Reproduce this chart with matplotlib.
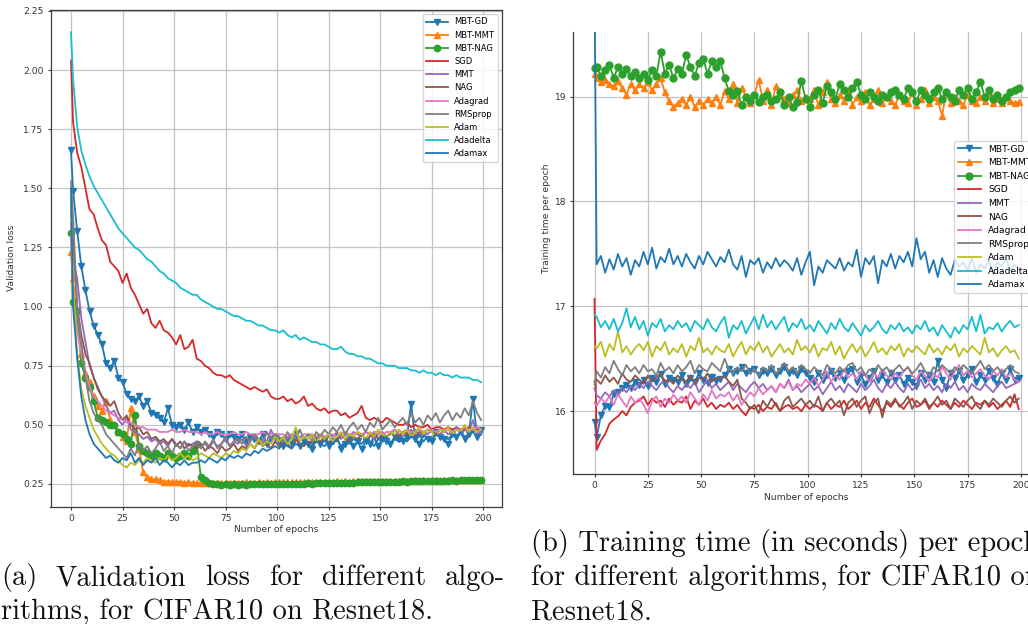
import matplotlib
matplotlib.use("Agg")
import matplotlib.pyplot as plt

# ---------------- data ----------------
epochs = [0] + list(range(1, 200, 2))
labels = ["MBT-GD", "MBT-MMT", "MBT-NAG", "SGD", "MMT", "NAG",
          "Adagrad", "RMSprop", "Adam", "Adadelta", "Adamax"]
x_ticks = [0, 25, 50, 75, 100, 125, 150, 175, 200]
loss_ticks = [0.25, 0.50, 0.75, 1.00, 1.25, 1.50, 1.75, 2.00, 2.25]
time_ticks = [16, 17, 18, 19]

# validation loss (left)
loss_mbt_gd = [1.66,
    1.49, 1.32, 1.17, 1.07, 0.98, 0.92, 0.88, 0.84, 0.76, 0.74,
    0.77, 0.70, 0.68, 0.63, 0.61, 0.60, 0.62, 0.58, 0.60, 0.55,
    0.54, 0.53, 0.51, 0.57, 0.50, 0.49, 0.50, 0.48, 0.51, 0.47,
    0.49, 0.47, 0.48, 0.46, 0.45, 0.47, 0.46, 0.44, 0.46, 0.45,
    0.44, 0.46, 0.43, 0.45, 0.44, 0.43, 0.46, 0.42, 0.44, 0.45,
    0.43, 0.41, 0.44, 0.42, 0.46, 0.41, 0.43, 0.42, 0.40, 0.44,
    0.42, 0.44, 0.41, 0.43, 0.45, 0.40, 0.42, 0.44, 0.41, 0.43,
    0.40, 0.43, 0.42, 0.45, 0.41, 0.44, 0.43, 0.42, 0.45, 0.44,
    0.43, 0.45, 0.59, 0.44, 0.42, 0.46, 0.44, 0.43, 0.47, 0.45,
    0.44, 0.42, 0.46, 0.45, 0.47, 0.44, 0.46, 0.61, 0.45, 0.48]
loss_mbt_mmt = [1.23,
    1.12, 0.93, 0.80, 0.72, 0.68, 0.62, 0.58, 0.56, 0.60, 0.52,
    0.50, 0.47, 0.45, 0.43, 0.57, 0.47, 0.40, 0.30, 0.28, 0.27,
    0.27, 0.265, 0.26, 0.26, 0.26, 0.258, 0.26, 0.255, 0.258, 0.255,
    0.255, 0.254, 0.256, 0.255, 0.254, 0.256, 0.255, 0.254, 0.256, 0.255,
    0.256, 0.255, 0.257, 0.256, 0.255, 0.257, 0.256, 0.257, 0.256, 0.257,
    0.257, 0.258, 0.257, 0.258, 0.259, 0.258, 0.257, 0.259, 0.258, 0.259,
    0.259, 0.260, 0.259, 0.260, 0.261, 0.260, 0.261, 0.260, 0.261, 0.262,
    0.261, 0.262, 0.261, 0.263, 0.262, 0.263, 0.262, 0.263, 0.264, 0.263,
    0.264, 0.263, 0.264, 0.265, 0.264, 0.265, 0.264, 0.266, 0.265, 0.264,
    0.265, 0.266, 0.265, 0.266, 0.265, 0.267, 0.266, 0.265, 0.266, 0.265]
loss_mbt_nag = [1.31,
    1.02, 0.98, 0.76, 0.70, 0.66, 0.60, 0.53, 0.52, 0.51, 0.50,
    0.50, 0.47, 0.46, 0.44, 0.42, 0.54, 0.41, 0.39, 0.38, 0.37,
    0.38, 0.37, 0.36, 0.38, 0.37, 0.36, 0.37, 0.38, 0.37, 0.39,
    0.42, 0.28, 0.265, 0.255, 0.25, 0.248, 0.247, 0.248, 0.247, 0.248,
    0.247, 0.248, 0.247, 0.248, 0.249, 0.248, 0.249, 0.248, 0.249, 0.250,
    0.250, 0.251, 0.250, 0.251, 0.252, 0.251, 0.252, 0.253, 0.252, 0.253,
    0.253, 0.254, 0.253, 0.255, 0.254, 0.255, 0.256, 0.255, 0.256, 0.257,
    0.257, 0.258, 0.257, 0.258, 0.259, 0.258, 0.259, 0.260, 0.259, 0.260,
    0.261, 0.260, 0.261, 0.262, 0.261, 0.262, 0.263, 0.262, 0.263, 0.264,
    0.264, 0.263, 0.265, 0.264, 0.265, 0.266, 0.265, 0.266, 0.267, 0.266]
loss_sgd = [2.04,
    1.78, 1.65, 1.59, 1.50, 1.41, 1.39, 1.33, 1.28, 1.26, 1.19,
    1.17, 1.15, 1.10, 1.14, 1.08, 1.05, 1.01, 0.97, 0.99, 0.93,
    0.91, 0.94, 0.90, 0.89, 0.87, 0.84, 0.88, 0.82, 0.83, 0.86,
    0.78, 0.77, 0.75, 0.74, 0.72, 0.71, 0.71, 0.70, 0.71, 0.69,
    0.68, 0.67, 0.66, 0.65, 0.66, 0.65, 0.64, 0.65, 0.62, 0.61,
    0.61, 0.62, 0.60, 0.61, 0.59, 0.60, 0.62, 0.58, 0.59, 0.57,
    0.56, 0.57, 0.55, 0.56, 0.56, 0.54, 0.55, 0.53, 0.54, 0.55,
    0.58, 0.53, 0.52, 0.53, 0.52, 0.51, 0.53, 0.52, 0.51, 0.50,
    0.50, 0.51, 0.49, 0.50, 0.49, 0.49, 0.50, 0.48, 0.49, 0.49,
    0.48, 0.49, 0.48, 0.49, 0.48, 0.48, 0.49, 0.48, 0.48, 0.48]
loss_mmt = [1.35,
    1.20, 1.12, 0.95, 0.85, 0.75, 0.70, 0.66, 0.62, 0.58, 0.55,
    0.56, 0.52, 0.50, 0.53, 0.48, 0.47, 0.46, 0.44, 0.45, 0.43,
    0.44, 0.42, 0.43, 0.41, 0.44, 0.42, 0.40, 0.43, 0.41, 0.42,
    0.43, 0.41, 0.42, 0.40, 0.43, 0.41, 0.42, 0.44, 0.41, 0.43,
    0.42, 0.44, 0.41, 0.43, 0.45, 0.42, 0.44, 0.43, 0.48, 0.44,
    0.43, 0.45, 0.44, 0.46, 0.43, 0.45, 0.44, 0.46, 0.45, 0.43,
    0.45, 0.44, 0.46, 0.45, 0.47, 0.44, 0.46, 0.45, 0.47, 0.46,
    0.45, 0.47, 0.46, 0.44, 0.46, 0.47, 0.45, 0.46, 0.48, 0.46,
    0.45, 0.47, 0.46, 0.48, 0.45, 0.47, 0.46, 0.48, 0.47, 0.46,
    0.48, 0.46, 0.47, 0.49, 0.46, 0.48, 0.47, 0.52, 0.46, 0.47]
loss_nag = [1.40,
    1.30, 1.00, 0.88, 0.80, 0.76, 0.70, 0.65, 0.62, 0.60, 0.58,
    0.60, 0.55, 0.52, 0.54, 0.50, 0.48, 0.49, 0.46, 0.47, 0.44,
    0.45, 0.43, 0.44, 0.42, 0.44, 0.41, 0.43, 0.40, 0.42, 0.41,
    0.40, 0.42, 0.39, 0.41, 0.40, 0.38, 0.41, 0.39, 0.40, 0.42,
    0.39, 0.41, 0.40, 0.42, 0.40, 0.43, 0.41, 0.42, 0.40, 0.43,
    0.41, 0.43, 0.42, 0.40, 0.44, 0.42, 0.41, 0.43, 0.42, 0.44,
    0.43, 0.45, 0.42, 0.44, 0.43, 0.46, 0.44, 0.43, 0.45, 0.44,
    0.46, 0.44, 0.45, 0.47, 0.44, 0.46, 0.45, 0.47, 0.46, 0.45,
    0.47, 0.46, 0.48, 0.45, 0.47, 0.46, 0.48, 0.47, 0.46, 0.48,
    0.47, 0.49, 0.46, 0.48, 0.47, 0.49, 0.48, 0.47, 0.49, 0.48]
loss_adagrad = [1.30,
    1.05, 0.90, 0.80, 0.72, 0.66, 0.62, 0.60, 0.58, 0.56, 0.55,
    0.54, 0.53, 0.52, 0.51, 0.51, 0.50, 0.49, 0.49, 0.48, 0.48,
    0.48, 0.47, 0.47, 0.47, 0.48, 0.47, 0.47, 0.48, 0.47, 0.47,
    0.47, 0.46, 0.47, 0.46, 0.46, 0.47, 0.46, 0.46, 0.46, 0.47,
    0.46, 0.46, 0.47, 0.46, 0.46, 0.46, 0.47, 0.46, 0.46, 0.46,
    0.46, 0.46, 0.45, 0.46, 0.46, 0.45, 0.46, 0.46, 0.46, 0.45,
    0.46, 0.45, 0.46, 0.46, 0.45, 0.46, 0.47, 0.46, 0.46, 0.47,
    0.46, 0.47, 0.46, 0.47, 0.47, 0.46, 0.47, 0.47, 0.48, 0.47,
    0.47, 0.48, 0.47, 0.47, 0.48, 0.47, 0.48, 0.48, 0.47, 0.48,
    0.48, 0.48, 0.47, 0.48, 0.48, 0.49, 0.48, 0.48, 0.49, 0.48]
loss_rmsprop = [1.53,
    1.38, 1.00, 0.85, 0.70, 0.60, 0.55, 0.52, 0.50, 0.46, 0.44,
    0.42, 0.40, 0.38, 0.36, 0.40, 0.37, 0.42, 0.39, 0.41, 0.38,
    0.40, 0.43, 0.39, 0.41, 0.38, 0.42, 0.40, 0.43, 0.39, 0.41,
    0.42, 0.40, 0.43, 0.41, 0.44, 0.40, 0.42, 0.45, 0.41, 0.43,
    0.44, 0.42, 0.45, 0.43, 0.46, 0.44, 0.42, 0.47, 0.44, 0.46,
    0.45, 0.43, 0.47, 0.44, 0.46, 0.48, 0.44, 0.46, 0.43, 0.47,
    0.45, 0.48, 0.46, 0.49, 0.47, 0.50, 0.46, 0.49, 0.51, 0.48,
    0.50, 0.47, 0.51, 0.49, 0.53, 0.48, 0.50, 0.52, 0.49, 0.51,
    0.53, 0.50, 0.55, 0.51, 0.53, 0.50, 0.54, 0.52, 0.55, 0.51,
    0.54, 0.56, 0.52, 0.55, 0.53, 0.57, 0.54, 0.60, 0.55, 0.52]
loss_adam = [1.45,
    1.10, 0.80, 0.65, 0.58, 0.53, 0.48, 0.45, 0.42, 0.40, 0.38,
    0.37, 0.35, 0.33, 0.32, 0.34, 0.33, 0.35, 0.34, 0.36, 0.35,
    0.34, 0.36, 0.35, 0.37, 0.35, 0.36, 0.38, 0.36, 0.37, 0.35,
    0.36, 0.38, 0.37, 0.36, 0.38, 0.37, 0.36, 0.38, 0.37, 0.39,
    0.38, 0.40, 0.39, 0.42, 0.40, 0.44, 0.41, 0.43, 0.42, 0.45,
    0.43, 0.45, 0.42, 0.44, 0.49, 0.43, 0.45, 0.44, 0.46, 0.43,
    0.45, 0.44, 0.46, 0.43, 0.45, 0.47, 0.44, 0.46, 0.45, 0.47,
    0.46, 0.44, 0.47, 0.45, 0.48, 0.46, 0.45, 0.47, 0.46, 0.48,
    0.46, 0.48, 0.45, 0.47, 0.49, 0.46, 0.48, 0.47, 0.45, 0.48,
    0.47, 0.49, 0.46, 0.48, 0.47, 0.50, 0.47, 0.49, 0.47, 0.48]
loss_adadelta = [2.16,
    1.96, 1.76, 1.66, 1.60, 1.55, 1.51, 1.48, 1.45, 1.42, 1.39,
    1.36, 1.33, 1.31, 1.29, 1.27, 1.25, 1.24, 1.22, 1.20, 1.19,
    1.17, 1.15, 1.14, 1.12, 1.11, 1.10, 1.08, 1.07, 1.06, 1.05,
    1.05, 1.03, 1.02, 1.01, 1.00, 0.99, 0.99, 0.98, 0.97, 0.96,
    0.96, 0.95, 0.94, 0.94, 0.93, 0.92, 0.92, 0.91, 0.90, 0.90,
    0.89, 0.90, 0.88, 0.87, 0.88, 0.86, 0.87, 0.86, 0.85, 0.85,
    0.84, 0.84, 0.83, 0.82, 0.82, 0.83, 0.81, 0.80, 0.80, 0.79,
    0.79, 0.78, 0.78, 0.77, 0.76, 0.76, 0.75, 0.75, 0.75, 0.74,
    0.74, 0.74, 0.73, 0.73, 0.72, 0.73, 0.72, 0.72, 0.71, 0.72,
    0.71, 0.71, 0.70, 0.71, 0.70, 0.70, 0.70, 0.69, 0.69, 0.68]
loss_adamax = [1.50,
    1.00, 0.78, 0.62, 0.52, 0.46, 0.42, 0.40, 0.38, 0.36, 0.37,
    0.35, 0.34, 0.36, 0.35, 0.38, 0.34, 0.36, 0.33, 0.35, 0.34,
    0.36, 0.33, 0.35, 0.34, 0.32, 0.34, 0.33, 0.35, 0.33, 0.34,
    0.34, 0.35, 0.34, 0.36, 0.35, 0.34, 0.36, 0.35, 0.37, 0.36,
    0.37, 0.36, 0.38, 0.37, 0.39, 0.38, 0.40, 0.39, 0.40, 0.41,
    0.40, 0.42, 0.41, 0.40, 0.42, 0.41, 0.43, 0.42, 0.41, 0.43,
    0.42, 0.41, 0.43, 0.42, 0.44, 0.41, 0.43, 0.42, 0.44, 0.43,
    0.42, 0.44, 0.43, 0.41, 0.44, 0.43, 0.45, 0.42, 0.44, 0.43,
    0.44, 0.43, 0.45, 0.44, 0.46, 0.43, 0.45, 0.44, 0.46, 0.45,
    0.45, 0.44, 0.46, 0.45, 0.47, 0.45, 0.46, 0.47, 0.45, 0.46]

# training time per epoch (right)
time_mbt_gd = [15.90,
    15.75, 15.96, 16.05, 16.04, 16.16, 16.18, 16.22, 16.25, 16.22, 16.28,
    16.25, 16.30, 16.24, 16.32, 16.28, 16.35, 16.26, 16.32, 16.30, 16.28,
    16.34, 16.26, 16.32, 16.28, 16.36, 16.30, 16.27, 16.33, 16.29, 16.31,
    16.34, 16.40, 16.36, 16.38, 16.42, 16.36, 16.38, 16.40, 16.34, 16.38,
    16.36, 16.40, 16.34, 16.38, 16.42, 16.36, 16.38, 16.34, 16.40, 16.36,
    16.32, 16.28, 16.36, 16.30, 16.34, 16.38, 16.32, 16.36, 16.30, 16.38,
    16.40, 16.28, 16.34, 16.26, 16.32, 16.38, 16.30, 16.34, 16.28, 16.36,
    16.30, 16.34, 16.26, 16.32, 16.28, 16.24, 16.36, 16.30, 16.34, 16.28,
    16.48, 16.30, 16.22, 16.36, 16.32, 16.38, 16.30, 16.34, 16.40, 16.28,
    16.34, 16.30, 16.38, 16.32, 16.26, 16.36, 16.30, 16.40, 16.30, 16.32]
time_mbt_mmt = [19.22,
    19.18, 19.14, 19.16, 19.12, 19.10, 19.15, 19.08, 19.02, 19.12, 19.06,
    19.12, 19.08, 19.14, 19.06, 19.12, 19.18, 19.04, 18.96, 18.90, 18.94,
    18.98, 18.92, 19.00, 18.90, 18.96, 18.92, 18.98, 18.94, 19.00, 18.92,
    19.05, 18.98, 19.12, 18.94, 19.08, 19.00, 18.94, 19.02, 19.16, 18.96,
    19.06, 18.92, 19.10, 19.02, 18.98, 18.94, 19.02, 19.06, 18.96, 19.00,
    18.98, 19.06, 18.92, 19.04, 19.14, 18.98, 18.94, 19.02, 18.96, 19.06,
    18.92, 19.00, 18.96, 19.04, 18.92, 18.98, 19.06, 18.94, 19.00, 18.96,
    18.92, 19.02, 18.96, 18.94, 19.04, 18.92, 18.98, 19.06, 18.94, 19.00,
    18.96, 18.82, 19.04, 18.94, 19.00, 18.96, 18.92, 19.02, 18.96, 18.94,
    19.00, 18.96, 19.04, 18.94, 18.98, 18.94, 19.00, 18.96, 18.94, 18.95]
time_mbt_nag = [19.27,
    19.28, 19.20, 19.25, 19.30, 19.18, 19.28, 19.22, 19.26, 19.20, 19.24,
    19.18, 19.22, 19.16, 19.25, 19.20, 19.43, 19.22, 19.30, 19.18, 19.26,
    19.22, 19.40, 19.28, 19.20, 19.32, 19.36, 19.22, 19.34, 19.28, 19.34,
    19.18, 19.05, 19.02, 19.05, 18.92, 19.00, 18.96, 19.02, 18.95, 19.00,
    19.02, 18.96, 18.98, 19.04, 18.92, 19.00, 18.90, 18.95, 19.15, 18.98,
    18.90, 19.02, 19.06, 18.94, 19.10, 19.04, 18.98, 19.12, 19.06, 19.00,
    19.08, 19.14, 19.02, 18.98, 19.04, 19.00, 18.96, 19.02, 19.00, 19.04,
    19.06, 19.02, 18.98, 19.08, 19.04, 18.96, 19.06, 19.02, 18.98, 19.04,
    19.08, 18.98, 19.04, 19.00, 18.96, 19.06, 19.02, 19.08, 18.98, 19.04,
    19.14, 19.00, 19.06, 18.98, 19.02, 18.96, 19.00, 19.04, 19.06, 19.08]
time_sgd = [17.07,
    15.63, 15.72, 15.78, 15.88, 15.92, 15.95, 16.00, 15.96, 16.04, 16.08,
    16.10, 16.14, 16.06, 16.12, 16.08, 16.10, 16.04, 16.12, 16.06, 16.10,
    16.08, 16.14, 16.02, 16.10, 16.06, 16.12, 16.04, 16.08, 16.02, 16.06,
    16.04, 16.08, 16.02, 16.06, 16.00, 15.96, 16.04, 16.02, 16.06, 16.00,
    16.04, 16.02, 16.08, 16.00, 16.04, 16.06, 16.02, 16.04, 16.00, 16.06,
    16.02, 16.06, 16.04, 16.00, 16.08, 16.02, 16.06, 16.04, 16.10, 16.02,
    16.06, 16.10, 16.02, 16.08, 16.04, 16.12, 16.06, 16.00, 16.08, 16.04,
    16.10, 16.06, 16.02, 16.08, 16.12, 16.04, 16.06, 16.10, 16.02, 16.08,
    16.04, 16.10, 16.06, 16.02, 16.08, 16.04, 16.10, 16.06, 16.02, 16.08,
    16.06, 16.10, 16.04, 16.08, 16.02, 16.06, 16.10, 16.04, 16.16, 16.02]
time_mmt = [16.22,
    16.15, 16.12, 16.18, 16.14, 16.20, 16.16, 16.22, 16.18, 16.24, 16.20,
    16.26, 16.22, 16.28, 16.24, 16.20, 16.26, 16.30, 16.22, 16.18, 16.24,
    16.20, 16.26, 16.22, 16.28, 16.18, 16.24, 16.30, 16.22, 16.26, 16.20,
    16.24, 16.28, 16.20, 16.26, 16.22, 16.18, 16.24, 16.28, 16.22, 16.26,
    16.20, 16.24, 16.18, 16.26, 16.22, 16.30, 16.20, 16.24, 16.18, 16.22,
    16.26, 16.20, 16.24, 16.16, 16.22, 16.28, 16.20, 16.24, 16.18, 16.26,
    16.22, 16.18, 16.26, 16.20, 16.24, 16.30, 16.22, 16.18, 16.26, 16.22,
    16.28, 16.22, 16.18, 16.26, 16.20, 16.24, 16.30, 16.22, 16.26, 16.20,
    16.24, 16.18, 16.26, 16.22, 16.28, 16.20, 16.24, 16.18, 16.26, 16.22,
    16.20, 16.26, 16.22, 16.18, 16.24, 16.28, 16.22, 16.24, 16.26, 16.28]
time_nag = [16.28,
    16.30, 16.26, 16.34, 16.28, 16.32, 16.26, 16.36, 16.30, 16.28, 16.34,
    16.30, 16.26, 16.34, 16.28, 16.32, 16.36, 16.28, 16.30, 16.26, 16.34,
    16.30, 16.28, 16.34, 16.26, 16.32, 16.30, 16.36, 16.28, 16.32, 16.30,
    16.34, 16.28, 16.24, 16.30, 16.12, 16.08, 16.02, 16.06, 15.98, 16.10,
    16.04, 16.12, 16.06, 16.00, 16.10, 16.14, 16.04, 16.08, 16.12, 16.06,
    16.10, 16.04, 16.14, 16.00, 16.08, 16.12, 16.06, 16.10, 15.96, 16.08,
    16.12, 16.04, 16.10, 16.14, 15.98, 16.08, 16.12, 15.94, 16.10, 16.06,
    16.12, 16.04, 16.08, 16.14, 16.02, 16.10, 16.06, 16.12, 16.04, 16.08,
    16.14, 16.06, 16.10, 16.02, 16.12, 16.08, 16.04, 16.10, 16.14, 16.06,
    16.02, 16.10, 16.06, 16.12, 16.08, 16.04, 16.10, 16.14, 16.08, 16.12]
time_adagrad = [16.08,
    16.05, 16.12, 16.08, 16.14, 16.06, 16.16, 16.10, 16.04, 16.14, 16.08,
    16.12, 16.06, 15.98, 16.10, 16.14, 16.04, 16.12, 16.08, 16.16, 16.10,
    16.14, 16.08, 16.18, 16.12, 16.06, 16.16, 16.10, 16.20, 16.12, 16.16,
    16.14, 16.18, 16.10, 16.16, 16.06, 16.12, 16.18, 16.14, 16.22, 16.16,
    16.20, 16.24, 16.18, 16.26, 16.22, 16.28, 16.20, 16.26, 16.24, 16.30,
    16.26, 16.32, 16.24, 16.30, 16.38, 16.28, 16.34, 16.30, 16.40, 16.32,
    16.36, 16.30, 16.38, 16.34, 16.28, 16.36, 16.32, 16.40, 16.34, 16.30,
    16.36, 16.32, 16.38, 16.42, 16.34, 16.30, 16.38, 16.34, 16.28, 16.36,
    16.32, 16.42, 16.36, 16.30, 16.38, 16.44, 16.34, 16.38, 16.32, 16.36,
    16.40, 16.34, 16.30, 16.38, 16.34, 16.40, 16.32, 16.36, 16.30, 16.28]
time_rmsprop = [16.25,
    16.38, 16.32, 16.42, 16.36, 16.48, 16.40, 16.34, 16.44, 16.38, 16.42,
    16.36, 16.44, 16.38, 16.40, 16.34, 16.46, 16.38, 16.42, 16.36, 16.44,
    16.38, 16.42, 16.48, 16.36, 16.44, 16.40, 16.38, 16.46, 16.42, 16.38,
    16.50, 16.40, 16.36, 16.42, 16.38, 16.44, 16.36, 16.40, 16.34, 16.42,
    16.38, 16.44, 16.36, 16.40, 16.46, 16.38, 16.42, 16.36, 16.44, 16.40,
    16.36, 16.42, 16.38, 16.34, 16.44, 16.40, 16.36, 16.42, 16.38, 16.44,
    16.46, 16.38, 16.42, 16.34, 16.40, 16.36, 16.44, 16.38, 16.42, 16.36,
    16.40, 16.44, 16.38, 16.42, 16.36, 16.40, 16.46, 16.38, 16.34, 16.42,
    16.38, 16.44, 16.40, 16.36, 16.42, 16.38, 16.44, 16.40, 16.36, 16.42,
    16.48, 16.40, 16.44, 16.38, 16.42, 16.36, 16.40, 16.44, 16.38, 16.36]
time_adam = [16.62,
    16.60, 16.66, 16.52, 16.64, 16.58, 16.76, 16.56, 16.62, 16.54, 16.60,
    16.64, 16.58, 16.66, 16.52, 16.62, 16.58, 16.66, 16.54, 16.60, 16.56,
    16.64, 16.52, 16.62, 16.58, 16.70, 16.56, 16.60, 16.54, 16.62, 16.58,
    16.56, 16.64, 16.52, 16.60, 16.66, 16.54, 16.62, 16.58, 16.66, 16.56,
    16.62, 16.52, 16.58, 16.64, 16.56, 16.60, 16.54, 16.68, 16.58, 16.62,
    16.56, 16.64, 16.52, 16.60, 16.58, 16.66, 16.54, 16.62, 16.50, 16.58,
    16.64, 16.56, 16.62, 16.52, 16.58, 16.66, 16.56, 16.60, 16.54, 16.62,
    16.58, 16.64, 16.52, 16.60, 16.56, 16.62, 16.58, 16.54, 16.64, 16.56,
    16.60, 16.54, 16.62, 16.58, 16.64, 16.52, 16.60, 16.56, 16.62, 16.58,
    16.54, 16.70, 16.56, 16.60, 16.52, 16.58, 16.62, 16.56, 16.58, 16.50]
time_adadelta = [16.92,
    16.90, 16.80, 16.86, 16.78, 16.88, 16.76, 16.84, 16.98, 16.80, 16.90,
    16.78, 16.86, 16.72, 16.84, 16.80, 16.88, 16.76, 16.82, 16.78, 16.86,
    16.80, 16.84, 16.76, 16.86, 16.82, 16.78, 16.88, 16.80, 16.76, 16.84,
    16.90, 16.70, 16.82, 16.78, 16.86, 16.74, 16.82, 16.90, 16.78, 16.92,
    16.80, 16.86, 16.78, 16.84, 16.90, 16.76, 16.84, 16.80, 16.88, 16.78,
    16.82, 16.76, 16.86, 16.80, 16.74, 16.84, 16.78, 16.88, 16.80, 16.76,
    16.84, 16.78, 16.72, 16.82, 16.76, 16.80, 16.86, 16.78, 16.74, 16.82,
    16.78, 16.84, 16.76, 16.80, 16.74, 16.82, 16.78, 16.86, 16.76, 16.80,
    16.72, 16.82, 16.76, 16.70, 16.80, 16.74, 16.82, 16.78, 16.90, 16.76,
    16.92, 16.74, 16.80, 16.78, 16.84, 16.76, 16.82, 16.86, 16.80, 16.82]
time_adamax = [20.08,
    17.40, 17.48, 17.32, 17.45, 17.35, 17.50, 17.38, 17.46, 17.30, 17.44,
    17.38, 17.52, 17.40, 17.56, 17.36, 17.47, 17.42, 17.55, 17.40, 17.48,
    17.38, 17.50, 17.42, 17.36, 17.48, 17.40, 17.52, 17.45, 17.38, 17.47,
    17.42, 17.54, 17.40, 17.35, 17.48, 17.28, 17.44, 17.40, 17.46, 17.32,
    17.42, 17.36, 17.46, 17.38, 17.44, 17.40, 17.34, 17.46, 17.30, 17.42,
    17.52, 17.20, 17.38, 17.32, 17.44, 17.40, 17.36, 17.46, 17.34, 17.42,
    17.38, 17.54, 17.28, 17.46, 17.40, 17.48, 17.22, 17.44, 17.38, 17.50,
    17.36, 17.48, 17.42, 17.52, 17.38, 17.65, 17.45, 17.52, 17.32, 17.44,
    17.28, 17.46, 17.36, 17.30, 17.44, 17.38, 17.42, 17.34, 17.46, 17.32,
    17.40, 17.36, 17.44, 17.30, 17.42, 17.38, 17.46, 17.34, 17.40, 17.35]

loss_series = [loss_mbt_gd, loss_mbt_mmt, loss_mbt_nag, loss_sgd, loss_mmt, loss_nag,
               loss_adagrad, loss_rmsprop, loss_adam, loss_adadelta, loss_adamax]
time_series = [time_mbt_gd, time_mbt_mmt, time_mbt_nag, time_sgd, time_mmt, time_nag,
               time_adagrad, time_rmsprop, time_adam, time_adadelta, time_adamax]

caption_a = ["(a) Validation loss for different algo-",
             "rithms, for CIFAR10 on Resnet18."]
caption_b = ["(b) Training time (in seconds) per epoch",
             "for different algorithms, for CIFAR10 on",
             "Resnet18."]

# ---------------- styles ----------------
colors = ["#1f77b4", "#ff7f0e", "#2ca02c", "#d62728", "#9467bd", "#8c564b",
          "#e377c2", "#7f7f7f", "#bcbd22", "#17becf", "#1f77b4"]
markers = ["v", "^", "o", None, None, None, None, None, None, None, None]

W, H = 1028, 624
fig = plt.figure(figsize=(W / 100, H / 100), dpi=100)
TXT = "#333333"
TICK_FS = 6.6


def style_axes(ax, all_spines):
    ax.grid(True, color="#c4c4c4", linewidth=0.9)
    ax.set_axisbelow(True)
    for side, sp in ax.spines.items():
        sp.set_color("#3a3a3a")
        sp.set_linewidth(0.9)
    if not all_spines:
        ax.spines["top"].set_visible(False)
        ax.spines["right"].set_visible(False)
    ax.tick_params(length=2.5, width=0.8, pad=2.5, labelsize=TICK_FS,
                   colors="#3a3a3a", labelcolor=TXT)


# left panel
ax1 = fig.add_axes([50.5 / W, 1 - 506.7 / H, 451.2 / W, 496.7 / H])
style_axes(ax1, True)
for lab, ys, c, m in zip(labels, loss_series, colors, markers):
    ax1.plot(epochs, ys, color=c, marker=m, markersize=4.6, linewidth=1.3, label=lab)
ax1.set_xlim(-9.95, 208.95)
ax1.set_ylim(0.154, 2.254)
ax1.set_xticks(x_ticks)
ax1.set_yticks(loss_ticks)
ax1.set_yticklabels([f"{v:.2f}" for v in loss_ticks])
ax1.set_xlabel("Number of epochs", fontsize=TICK_FS, color=TXT, labelpad=2)
ax1.set_ylabel("Validation loss", fontsize=TICK_FS, color=TXT, labelpad=5)
ax1.legend(loc="upper right", fontsize=6.0, handlelength=2.6, framealpha=0.8,
           edgecolor="#cccccc")

# right panel
ax2 = fig.add_axes([573.3 / W, 1 - 474.0 / H, 466.7 / W, 442.3 / H])
style_axes(ax2, False)
for lab, ys, c, m in zip(labels, time_series, colors, markers):
    ax2.plot(epochs, ys, color=c, marker=m, markersize=5.0, linewidth=1.3, label=lab)
ax2.set_xlim(-9.95, 208.95)
ax2.set_ylim(15.40, 19.62)
ax2.set_xticks(x_ticks)
ax2.set_yticks(time_ticks)
ax2.set_xlabel("Number of epochs", fontsize=TICK_FS, color=TXT, labelpad=2)
ax2.set_ylabel("Training time per epoch", fontsize=TICK_FS, color=TXT, labelpad=3, y=0.579)
ax2.legend(loc="center right", bbox_to_anchor=(1.0, 0.581), fontsize=6.6,
           handlelength=2.5, framealpha=0.8, edgecolor="#cccccc")

# ---------------- captions ----------------
CAP = dict(family="cmr10", size=20.5, color="#111111", va="baseline", ha="left")


def fig_text(x_px, y_px, s):
    return fig.text(x_px / W, 1 - y_px / H, s, **CAP)


fig.canvas.draw()
renderer = fig.canvas.get_renderer()

# justified first line of caption (a)
words = caption_a[0].split(" ")
objs = [fig_text(0, 585, w) for w in words]
widths = [o.get_window_extent(renderer).width for o in objs]
x_start, x_end = 1.0, 505.0
gap = (x_end - x_start - sum(widths)) / (len(words) - 1)
xpos = x_start
for o, wd in zip(objs, widths):
    o.set_x(xpos / W)
    xpos += wd + gap
fig_text(1, 619, caption_a[1])

for i, line in enumerate(caption_b):
    fig_text(531, 551 + 34 * i, line)

fig.savefig("out.png", dpi=100)
